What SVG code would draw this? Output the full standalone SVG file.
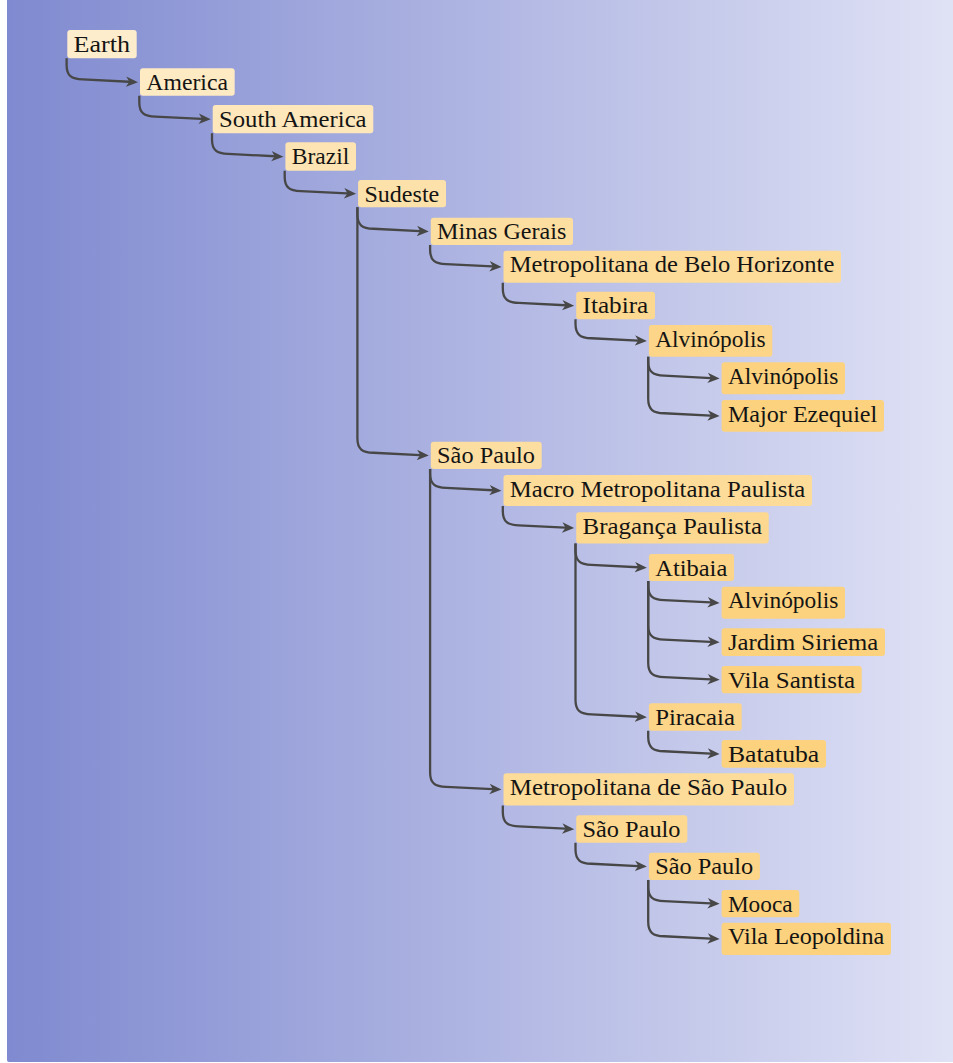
<svg xmlns="http://www.w3.org/2000/svg" width="953" height="1063" viewBox="0 0 953 1063">
<defs>
<linearGradient id="bg" x1="0" y1="0" x2="1" y2="0">
<stop offset="0" stop-color="#7f8ad0"/>
<stop offset="1" stop-color="#e0e2f5"/>
</linearGradient>
<marker id="arr" viewBox="0 -7 14 14" refX="8" refY="0" markerWidth="14" markerHeight="14" markerUnits="userSpaceOnUse" orient="auto">
<path d="M0,-5.2 L12,0 L0,5.2 L3.4,0 Z" fill="#474747"/>
</marker>
<style>
.e{fill:none;stroke:#474747;stroke-width:2.3;marker-end:url(#arr)}
.t{font-family:"Liberation Serif","Times New Roman","DejaVu Serif",serif;font-size:23px;fill:#141414}
.L0{fill:#feedcc}.L1{fill:#feeac3}.L2{fill:#fee7bb}.L3{fill:#fde4b2}.L4{fill:#fde1aa}
.L5{fill:#fddea1}.L6{fill:#fddb99}.L7{fill:#fdd890}.L8{fill:#fcd588}.L9{fill:#fcd27f}
</style>
</defs>
<rect x="7" y="-5" width="950" height="1067" rx="2" fill="url(#bg)"/>
<g id="connectors">
<path class="e" d="M66.6,58.3 V65 C66.6,76 71.6,79 82.6,79.4 L134,82"/>
<path class="e" d="M139.3,95.7 V102.15 C139.3,113.15 144.3,116.15 155.3,116.55 L206.7,119.15"/>
<path class="e" d="M212,133.3 V139.5 C212,150.5 217,153.5 228,153.9 L279.4,156.5"/>
<path class="e" d="M284.7,170.7 V176.65 C284.7,187.65 289.7,190.65 300.7,191.05 L352.1,193.65"/>
<path class="e" d="M357.4,207.3 V214.35 C357.4,225.35 362.4,228.35 373.4,228.75 L424.8,231.35"/>
<path class="e" d="M357.4,207.3 V438.35 C357.4,449.35 362.4,452.35 373.4,452.75 L424.8,455.35"/>
<path class="e" d="M430.1,245 V249.7 C430.1,260.7 435.1,263.7 446.1,264.1 L497.5,266.7"/>
<path class="e" d="M502.8,282.7 V288.5 C502.8,299.5 507.8,302.5 518.8,302.9 L570.2,305.5"/>
<path class="e" d="M575.5,319.3 V323.85 C575.5,334.85 580.5,337.85 591.5,338.25 L642.9,340.85"/>
<path class="e" d="M648.2,356.7 V361.3 C648.2,372.3 653.2,375.3 664.2,375.7 L715.6,378.3"/>
<path class="e" d="M648.2,356.7 V398.85 C648.2,409.85 653.2,412.85 664.2,413.25 L715.6,415.85"/>
<path class="e" d="M430.1,469 V473.5 C430.1,484.5 435.1,487.5 446.1,487.9 L497.5,490.5"/>
<path class="e" d="M430.1,469 V772.4 C430.1,783.4 435.1,786.4 446.1,786.8 L497.5,789.4"/>
<path class="e" d="M502.8,506 V510.9 C502.8,521.9 507.8,524.9 518.8,525.3 L570.2,527.9"/>
<path class="e" d="M575.5,543.5 V550.5 C575.5,561.5 580.5,564.5 591.5,564.9 L642.9,567.5"/>
<path class="e" d="M575.5,543.5 V700 C575.5,711 580.5,714 591.5,714.4 L642.9,717"/>
<path class="e" d="M648.2,581 V585.7 C648.2,596.7 653.2,599.7 664.2,600.1 L715.6,602.7"/>
<path class="e" d="M648.2,581 V625.15 C648.2,636.15 653.2,639.15 664.2,639.55 L715.6,642.15"/>
<path class="e" d="M648.2,581 V662.65 C648.2,673.65 653.2,676.65 664.2,677.05 L715.6,679.65"/>
<path class="e" d="M648.2,730.7 V736.85 C648.2,747.85 653.2,750.85 664.2,751.25 L715.6,753.85"/>
<path class="e" d="M502.8,805.5 V811.95 C502.8,822.95 507.8,825.95 518.8,826.35 L570.2,828.95"/>
<path class="e" d="M575.5,842.7 V849.35 C575.5,860.35 580.5,863.35 591.5,863.75 L642.9,866.35"/>
<path class="e" d="M648.2,880 V886.65 C648.2,897.65 653.2,900.65 664.2,901.05 L715.6,903.65"/>
<path class="e" d="M648.2,880 V921.85 C648.2,932.85 653.2,935.85 664.2,936.25 L715.6,938.85"/>
</g>
<g id="n1"><rect class="L0" x="67.3" y="30" width="69.4" height="28.3" rx="3"/><text class="t" x="73.6" y="51.5" textLength="56.4" lengthAdjust="spacingAndGlyphs">Earth</text></g>
<g id="n2"><rect class="L1" x="140" y="68.3" width="94.7" height="27.4" rx="3"/><text class="t" x="146.3" y="89.8" textLength="81.7" lengthAdjust="spacingAndGlyphs">America</text></g>
<g id="n3"><rect class="L2" x="212.7" y="105" width="160.6" height="28.3" rx="3"/><text class="t" x="219" y="126.5" textLength="147.6" lengthAdjust="spacingAndGlyphs">South America</text></g>
<g id="n4"><rect class="L3" x="285.4" y="142.3" width="70.6" height="28.4" rx="3"/><text class="t" x="291.7" y="163.8" textLength="57.6" lengthAdjust="spacingAndGlyphs">Brazil</text></g>
<g id="n5"><rect class="L4" x="358.1" y="180" width="87.9" height="27.3" rx="3"/><text class="t" x="364.4" y="201.5" textLength="74.9" lengthAdjust="spacingAndGlyphs">Sudeste</text></g>
<g id="n6"><rect class="L5" x="430.8" y="217.7" width="142.2" height="27.3" rx="3"/><text class="t" x="437.1" y="239.2" textLength="129.2" lengthAdjust="spacingAndGlyphs">Minas Gerais</text></g>
<g id="n7"><rect class="L6" x="503.5" y="250.7" width="337.5" height="32" rx="3"/><text class="t" x="509.8" y="272.2" textLength="324.5" lengthAdjust="spacingAndGlyphs">Metropolitana de Belo Horizonte</text></g>
<g id="n8"><rect class="L7" x="576.2" y="291.7" width="78.8" height="27.6" rx="3"/><text class="t" x="582.5" y="313.2" textLength="65.8" lengthAdjust="spacingAndGlyphs">Itabira</text></g>
<g id="n9"><rect class="L8" x="648.9" y="325" width="123.4" height="31.7" rx="3"/><text class="t" x="655.2" y="346.5" textLength="110.4" lengthAdjust="spacingAndGlyphs">Alvinópolis</text></g>
<g id="n10"><rect class="L9" x="721.6" y="362.3" width="123.4" height="32" rx="3"/><text class="t" x="727.9" y="383.8" textLength="110.4" lengthAdjust="spacingAndGlyphs">Alvinópolis</text></g>
<g id="n11"><rect class="L9" x="721.6" y="400" width="162.4" height="31.7" rx="3"/><text class="t" x="727.9" y="421.5" textLength="149.4" lengthAdjust="spacingAndGlyphs">Major Ezequiel</text></g>
<g id="n12"><rect class="L5" x="430.8" y="441.7" width="110.9" height="27.3" rx="3"/><text class="t" x="437.1" y="463.2" textLength="97.9" lengthAdjust="spacingAndGlyphs">São Paulo</text></g>
<g id="n13"><rect class="L6" x="503.5" y="475" width="308.5" height="31" rx="3"/><text class="t" x="509.8" y="496.5" textLength="295.5" lengthAdjust="spacingAndGlyphs">Macro Metropolitana Paulista</text></g>
<g id="n14"><rect class="L7" x="576.2" y="512.3" width="192.5" height="31.2" rx="3"/><text class="t" x="582.5" y="533.8" textLength="179.5" lengthAdjust="spacingAndGlyphs">Bragança Paulista</text></g>
<g id="n15"><rect class="L8" x="648.9" y="554" width="85.1" height="27" rx="3"/><text class="t" x="655.2" y="575.5" textLength="72.1" lengthAdjust="spacingAndGlyphs">Atibaia</text></g>
<g id="n16"><rect class="L9" x="721.6" y="586.7" width="123.4" height="32" rx="3"/><text class="t" x="727.9" y="608.2" textLength="110.4" lengthAdjust="spacingAndGlyphs">Alvinópolis</text></g>
<g id="n17"><rect class="L9" x="721.6" y="628.3" width="163.4" height="27.7" rx="3"/><text class="t" x="727.9" y="649.8" textLength="150.4" lengthAdjust="spacingAndGlyphs">Jardim Siriema</text></g>
<g id="n18"><rect class="L9" x="721.6" y="666" width="140.1" height="27.3" rx="3"/><text class="t" x="727.9" y="687.5" textLength="127.1" lengthAdjust="spacingAndGlyphs">Vila Santista</text></g>
<g id="n19"><rect class="L8" x="648.9" y="703.3" width="92.8" height="27.4" rx="3"/><text class="t" x="655.2" y="724.8" textLength="79.8" lengthAdjust="spacingAndGlyphs">Piracaia</text></g>
<g id="n20"><rect class="L9" x="721.6" y="740" width="104.4" height="27.7" rx="3"/><text class="t" x="727.9" y="761.5" textLength="91.4" lengthAdjust="spacingAndGlyphs">Batatuba</text></g>
<g id="n21"><rect class="L6" x="503.5" y="773.3" width="290.5" height="32.2" rx="3"/><text class="t" x="509.8" y="794.8" textLength="277.5" lengthAdjust="spacingAndGlyphs">Metropolitana de São Paulo</text></g>
<g id="n22"><rect class="L7" x="576.2" y="815.2" width="111.1" height="27.5" rx="3"/><text class="t" x="582.5" y="836.7" textLength="98" lengthAdjust="spacingAndGlyphs">São Paulo</text></g>
<g id="n23"><rect class="L8" x="648.9" y="852.7" width="111" height="27.3" rx="3"/><text class="t" x="655.2" y="874.2" textLength="98" lengthAdjust="spacingAndGlyphs">São Paulo</text></g>
<g id="n24"><rect class="L9" x="721.6" y="890" width="77.7" height="27.3" rx="3"/><text class="t" x="727.9" y="911.5" textLength="64.7" lengthAdjust="spacingAndGlyphs">Mooca</text></g>
<g id="n25"><rect class="L9" x="721.6" y="922.7" width="169.4" height="32.3" rx="3"/><text class="t" x="727.9" y="944.2" textLength="156.4" lengthAdjust="spacingAndGlyphs">Vila Leopoldina</text></g>
</svg>
